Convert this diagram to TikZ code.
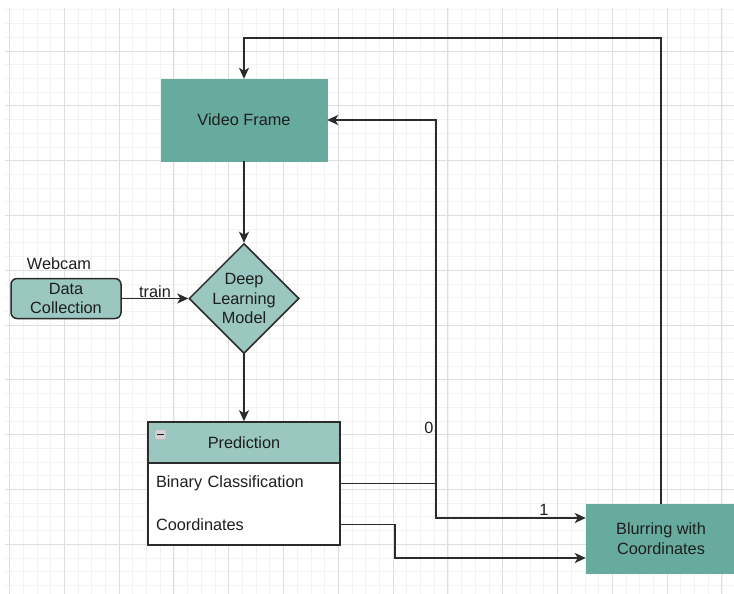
\documentclass[tikz,border=0pt]{standalone}
\usepackage{fontspec}
\setmainfont{Liberation Sans}
\usetikzlibrary{shapes.geometric,arrows.meta,calc}

\definecolor{tealdark}{HTML}{67AB9F}
\definecolor{teallight}{HTML}{9AC7BF}
\definecolor{edge}{HTML}{2B2B2B}
\definecolor{ink}{HTML}{1E1E1E}
\definecolor{gridminor}{HTML}{F2F2F2}
\definecolor{gridmajor}{HTML}{DEDEDE}

\tikzset{
  every node/.style={font=\fontsize{16.3}{19.5}\selectfont, text=ink},
  conn/.style={draw=edge, line width=1.7pt},
  arr/.style={conn, -{Stealth[length=11pt,width=10pt,inset=3pt]}},
  darkbox/.style={rectangle, fill=tealdark, draw=tealdark, inner sep=0pt},
  lightround/.style={rectangle, rounded corners=6pt, fill=teallight, draw=edge, line width=1.5pt, inner sep=0pt, align=center},
  decision/.style={diamond, fill=teallight, draw=edge, line width=1.5pt, inner sep=0pt, minimum width=110pt, minimum height=110pt},
  rowitem/.style={rectangle, inner xsep=8pt, inner ysep=0pt, text width=176pt, minimum height=41pt, align=left},
  plain/.style={inner sep=1pt}
}

\begin{document}
\begin{tikzpicture}[x=1pt, y=-1pt]
  \useasboundingbox (0,0) rectangle (734,594);
  \clip (0,0) rectangle (734,594);

  % background grid
  \foreach \k in {0,...,53} \draw[gridminor, line width=0.8pt] (9.5+13.7*\k,8) -- (9.5+13.7*\k,594);
  \foreach \k in {0,...,42} \draw[gridminor, line width=0.8pt] (5,9.9+13.7*\k) -- (734,9.9+13.7*\k);
  \foreach \k in {0,...,13} \draw[gridmajor, line width=0.9pt] (9.5+54.8*\k,8) -- (9.5+54.8*\k,594);
  \foreach \k in {0,...,9} \draw[gridmajor, line width=0.9pt] (5,51+54.8*\k) -- (734,51+54.8*\k);

  % main blocks
  \node[darkbox, minimum width=166pt, minimum height=82pt] (vf) at (244,120) {Video Frame};
  \node[decision] (dlm) at (244,298.5) {};
  \node[align=center, inner sep=0pt] (dlmtext) at (dlm.center) {Deep\\Learning\\Model};
  \node[lightround, minimum width=110pt, minimum height=40pt] (dc) at (66,298.5) {Data\\Collection};
  \node[plain] (webcam) at (59,264) {Webcam};
  \node[darkbox, minimum width=150pt, minimum height=69pt, align=center] (bl) at (661,538.5) {Blurring with\\Coordinates};

  % prediction table
  \node[rectangle, draw=edge, fill=white, line width=1.5pt, minimum width=192pt, minimum height=123pt, inner sep=0pt] (pred) at (244,483.5) {};
  \node[rectangle, draw=edge, fill=teallight, line width=1.5pt, minimum width=192pt, minimum height=41pt, inner sep=0pt] (predhead) at (244,442.5) {Prediction};
  \node[rowitem] (bin) at (244,483.5) {Binary Classification};
  \node[rowitem] (crd) at (244,524.5) {Coordinates};
  \node[rectangle, rounded corners=1pt, draw=gray!70, fill=gray!35, minimum width=11pt, minimum height=10pt, inner sep=0pt] (fold) at (160.5,434.5) {};
  \draw[gray!20!black, line width=1.1pt] ([xshift=-3.5pt]fold.center) -- ([xshift=3.5pt]fold.center);

  % junction points of the routed connectors
  \coordinate (split) at (436,483.5);
  \coordinate (loop) at (452,38);

  % connectors
  \draw[arr] (vf.south) -- (dlm.north);
  \draw[arr] (dlm.south) -- (pred.north);
  \draw[arr] (dc.east) -- node[above, plain, pos=0.5, yshift=-1pt] {train} (dlm.west);
  \draw[conn] (bin.east) -- (split);
  \draw[arr] (split) |- (vf.east);
  \draw[arr] (split) |- ([yshift=20.5pt]bl.west);
  \draw[arr] (crd.east) -- ++(55,0) |- ([yshift=-19.5pt]bl.west);
  \draw[arr] (bl.north) |- (loop) -| (vf.north);

  % branch labels
  \node[plain] (lbl0) at (429,428) {0};
  \node[plain] (lbl1) at (544,510) {1};
\end{tikzpicture}
\end{document}
